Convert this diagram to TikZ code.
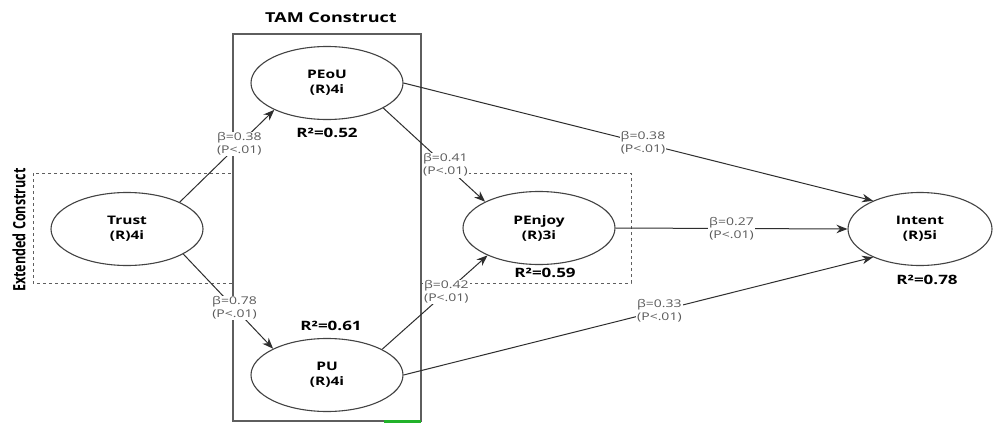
\documentclass[tikz,border=0pt]{standalone}
\usepackage{fontspec}
\setmainfont{Open Sans}
\usepackage{graphicx}
\usetikzlibrary{shapes.geometric,arrows.meta}
\newcommand{\sqz}[1]{\scalebox{1}[0.76]{#1}}
\newcommand{\sqw}[1]{\scalebox{0.74}[1]{#1}}
\definecolor{linec}{HTML}{2E2E2E}
\definecolor{labc}{HTML}{5A5A5A}
\definecolor{boxc}{HTML}{5E5E5E}
\definecolor{artgreen}{HTML}{22B22A}
\begin{document}
\begin{tikzpicture}[x=1pt,y=-1pt,
  latent/.style={ellipse, draw=linec!90, line width=1.1pt, fill=white,
    minimum width=152pt, minimum height=73pt, inner sep=0pt, align=center,
    font=\fontsize{15.5}{15}\selectfont\bfseries},
  pathc/.style={draw=linec, line width=1pt, -{Stealth[length=11pt,width=8.5pt]}},
  coef/.style={fill=white, inner sep=1pt, text=labc, align=center,
    font=\fontsize{14}{13}\selectfont},
  rsq/.style={font=\fontsize{17}{17}\selectfont\bfseries},
  grp/.style={draw=boxc, line width=1.3pt},
  ext/.style={draw=boxc, line width=1pt, dash pattern=on 3pt off 3pt}
]
\useasboundingbox[fill=white] (0,0) rectangle (993,423);
% extended construct (dashed)
\draw[ext] (33,173) rectangle (631,283);
% TAM construct box
\draw[grp, fill=white] (233,34) rectangle (421,421);
\fill[artgreen] (384,419.5) rectangle (421,423);
% titles
\node[font=\fontsize{18}{18}\selectfont\bfseries] (tamt) at (331,18) {\sqz{TAM Construct}};
\node[rotate=90, font=\fontsize{17}{17}\selectfont\bfseries] (extt) at (19,230) {\sqw{Extended Construct}};
% latent variables
\node[latent] (trust) at (127,229) {\sqz{Trust}\\\sqz{(R)4i}};
\node[latent] (peou) at (327,83) {\sqz{PEoU}\\\sqz{(R)4i}};
\node[latent] (pu) at (327,375) {\sqz{PU}\\\sqz{(R)4i}};
\node[latent] (penjoy) at (539,228) {\sqz{PEnjoy}\\\sqz{(R)3i}};
\node[latent, minimum width=144pt] (intent) at (920,229) {\sqz{Intent}\\\sqz{(R)5i}};
% R squared
\node[rsq] (r1) at (327,133) {\sqz{R²=0.52}};
\node[rsq] (r2) at (331,326) {\sqz{R²=0.61}};
\node[rsq] (r3) at (545,273) {\sqz{R²=0.59}};
\node[rsq] (r4) at (927,280) {\sqz{R²=0.78}};
% paths
\draw[pathc] (trust.27) -- node[coef, pos=0.63] {\sqz{β=0.38}\\\sqz{(P<.01)}} (peou.207);
\draw[pathc] (trust.336) -- node[coef, pos=0.57] {\sqz{β=0.78}\\\sqz{(P<.01)}} (pu.154);
\draw[pathc] (peou.336) -- node[coef, pos=0.61] {\sqz{β=0.41}\\\sqz{(P<.01)}} (penjoy.154);
\draw[pathc] (pu.25) -- node[coef, pos=0.61] {\sqz{β=0.42}\\\sqz{(P<.01)}} (penjoy.208);
\draw[pathc] (peou.east) -- node[coef, pos=0.51] {\sqz{β=0.38}\\\sqz{(P<.01)}} (intent.149);
\draw[pathc] (penjoy.east) -- node[coef, pos=0.5] {\sqz{β=0.27}\\\sqz{(P<.01)}} (intent.west);
\draw[pathc] (pu.east) -- node[coef, pos=0.545] {\sqz{β=0.33}\\\sqz{(P<.01)}} (intent.211);
\end{tikzpicture}
\end{document}
